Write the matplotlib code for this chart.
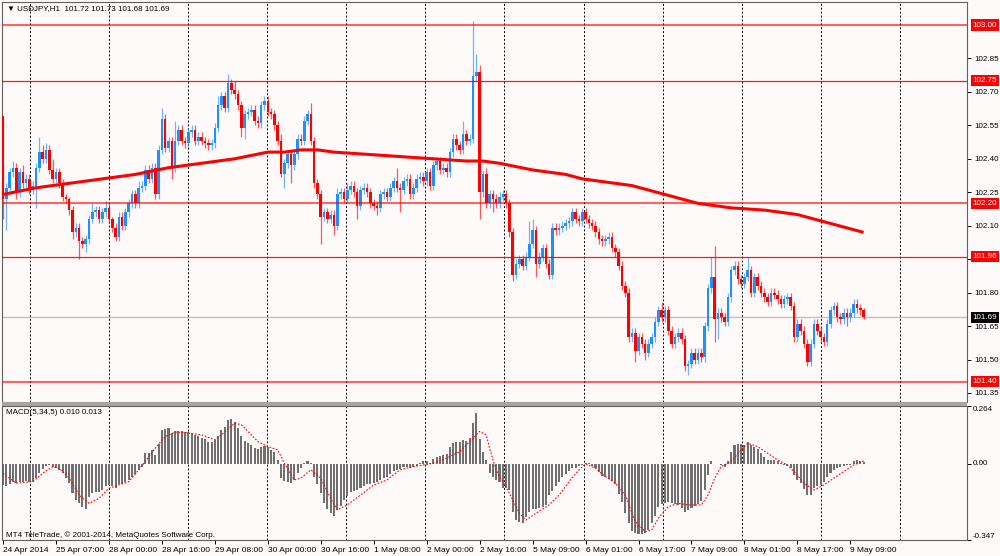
import numpy as np
import matplotlib
matplotlib.use("Agg")
import matplotlib.pyplot as plt
import matplotlib.transforms as mtransforms
from matplotlib.patches import Rectangle

plt.rcParams['font.family'] = ['Liberation Sans', 'DejaVu Sans']

# ---- data (USDJPY H1) ----
first_open = 102.59
closes = [
    102.22, 102.27, 102.34, 102.36, 102.25, 102.34, 102.29, 102.31, 102.26, 102.28,
    102.36, 102.43, 102.40, 102.44, 102.35, 102.31, 102.34, 102.29, 102.23, 102.22,
    102.17, 102.07, 102.09, 102.03, 102.02, 102.04, 102.13, 102.16, 102.17, 102.13,
    102.16, 102.18, 102.13, 102.09, 102.05, 102.14, 102.10, 102.16, 102.20, 102.24,
    102.20, 102.27, 102.28, 102.35, 102.31, 102.36, 102.24, 102.44, 102.58, 102.45,
    102.48, 102.36, 102.48, 102.53, 102.48, 102.47, 102.52, 102.53, 102.48, 102.50,
    102.48, 102.47, 102.46, 102.47, 102.54, 102.64, 102.68, 102.63, 102.74, 102.71,
    102.69, 102.64, 102.54, 102.60, 102.61, 102.62, 102.57, 102.56, 102.64, 102.66,
    102.61, 102.60, 102.55, 102.48, 102.33, 102.38, 102.42, 102.37, 102.42, 102.49,
    102.48, 102.57, 102.60, 102.48, 102.29, 102.24, 102.14, 102.16, 102.13, 102.15,
    102.10, 102.24, 102.25, 102.22, 102.26, 102.28, 102.25, 102.19, 102.26, 102.27,
    102.25, 102.20, 102.19, 102.18, 102.24, 102.25, 102.23, 102.27, 102.30, 102.27,
    102.26, 102.30, 102.31, 102.24, 102.27, 102.31, 102.32, 102.30, 102.34, 102.28,
    102.37, 102.39, 102.35, 102.36, 102.34, 102.43, 102.49, 102.46, 102.44, 102.51,
    102.48, 102.49, 102.77, 102.79, 102.25, 102.33, 102.20, 102.24, 102.22, 102.20,
    102.23, 102.24, 102.20, 102.07, 101.88, 101.93, 101.95, 101.92, 101.96, 102.02,
    102.08, 101.93, 101.96, 102.00, 101.93, 101.88, 102.09, 102.08, 102.09, 102.10,
    102.11, 102.12, 102.16, 102.13, 102.12, 102.16, 102.13, 102.11, 102.10, 102.07,
    102.04, 102.03, 102.04, 102.05, 102.00, 101.98, 101.92, 101.83, 101.80, 101.60,
    101.62, 101.54, 101.60, 101.57, 101.53, 101.57, 101.60, 101.67, 101.72, 101.69,
    101.72, 101.63, 101.57, 101.60, 101.62, 101.59, 101.47, 101.48, 101.53, 101.50,
    101.53, 101.51, 101.65, 101.82, 101.87, 101.68, 101.71, 101.69, 101.67, 101.78,
    101.90, 101.92, 101.86, 101.84, 101.87, 101.90, 101.80, 101.87, 101.83, 101.80,
    101.78, 101.76, 101.80, 101.79, 101.77, 101.75, 101.77, 101.78, 101.74, 101.60,
    101.66, 101.63, 101.57, 101.49, 101.57, 101.66, 101.63, 101.60, 101.58, 101.66,
    101.72, 101.74, 101.69, 101.68, 101.71, 101.69, 101.71, 101.75, 101.73, 101.72,
    101.69,
]
# wick lengths beyond the body, in pips (0.01)
hi_wick = [
    0, 2, 2, 3, 2, 2, 3, 2, 2, 2, 2, 7, 3, 3, 2, 5, 2, 2, 2, 1,
    1, 2, 2, 2, 2, 2, 2, 4, 2, 2, 2, 3, 2, 1, 2, 2, 2, 2, 2, 2,
    2, 3, 2, 2, 2, 2, 2, 2, 5, 2, 2, 2, 9, 2, 2, 2, 2, 2, 2, 2,
    2, 2, 2, 2, 2, 4, 2, 2, 4, 2, 4, 2, 2, 2, 2, 2, 2, 2, 2, 2,
    2, 2, 2, 2, 3, 2, 2, 2, 2, 2, 2, 2, 2, 5, 2, 2, 2, 2, 2, 2,
    2, 3, 2, 2, 3, 2, 2, 2, 2, 2, 2, 2, 2, 2, 2, 2, 2, 2, 2, 6,
    2, 2, 2, 2, 2, 2, 2, 2, 2, 2, 2, 2, 2, 2, 2, 2, 2, 2, 2, 6,
    2, 2, 25, 8, 3, 2, 3, 2, 2, 2, 2, 2, 2, 2, 2, 2, 2, 2, 2, 10,
    5, 2, 2, 2, 2, 2, 2, 2, 2, 2, 2, 2, 2, 2, 2, 2, 2, 2, 2, 2,
    2, 2, 2, 2, 2, 2, 2, 2, 2, 2, 2, 2, 2, 2, 2, 2, 2, 2, 2, 4,
    2, 2, 2, 2, 2, 2, 2, 2, 2, 2, 2, 2, 2, 2, 9, 14, 2, 2, 2, 2,
    2, 2, 2, 2, 2, 6, 2, 2, 2, 2, 2, 2, 2, 2, 2, 2, 2, 2, 2, 2,
    2, 2, 2, 2, 2, 2, 2, 2, 2, 2, 2, 2, 2, 2, 2, 2, 2, 2, 2, 2,
    1,
]
lo_wick = [
    9, 14, 2, 2, 3, 2, 2, 2, 2, 2, 10, 2, 2, 2, 2, 2, 2, 2, 2, 2,
    2, 3, 2, 8, 2, 4, 2, 2, 2, 2, 2, 2, 2, 2, 2, 2, 2, 2, 2, 2,
    2, 2, 2, 2, 2, 2, 2, 2, 2, 2, 2, 5, 2, 2, 2, 2, 2, 2, 2, 2,
    2, 2, 2, 2, 2, 2, 2, 2, 2, 2, 2, 2, 4, 5, 2, 2, 2, 2, 2, 2,
    2, 2, 2, 2, 1, 6, 2, 8, 2, 2, 2, 2, 2, 2, 2, 2, 12, 2, 2, 2,
    4, 2, 2, 2, 2, 2, 2, 6, 2, 2, 2, 2, 2, 3, 2, 2, 2, 2, 2, 2,
    10, 2, 2, 2, 2, 2, 2, 2, 2, 2, 2, 2, 2, 2, 2, 2, 2, 2, 2, 2,
    2, 2, 2, 2, 12, 2, 2, 2, 6, 2, 2, 2, 2, 2, 3, 2, 2, 2, 2, 2,
    2, 6, 2, 2, 2, 2, 2, 2, 2, 2, 2, 2, 2, 2, 2, 2, 2, 2, 2, 2,
    2, 2, 2, 2, 2, 2, 2, 2, 2, 2, 2, 5, 2, 2, 3, 2, 2, 2, 2, 2,
    2, 2, 2, 2, 2, 2, 2, 4, 2, 2, 2, 2, 2, 2, 2, 10, 9, 2, 2, 2,
    2, 2, 2, 2, 2, 2, 2, 2, 2, 2, 2, 2, 2, 2, 2, 2, 2, 2, 2, 2,
    2, 2, 2, 2, 2, 2, 2, 2, 2, 2, 2, 2, 2, 2, 2, 4, 2, 2, 2, 2,
    1,
]

# thick red moving average
ma_bars = [0, 10, 20, 30, 40, 50, 60, 70, 80, 85, 90, 95, 100, 110, 120, 130, 140,
           145, 150, 160, 170, 175, 180, 190, 200, 205, 210, 220, 230, 240, 245,
           250, 255, 260]
ma_vals = [102.24, 102.27, 102.29, 102.31, 102.33, 102.36, 102.38, 102.40, 102.43,
           102.43, 102.44, 102.44, 102.43, 102.42, 102.41, 102.40, 102.39, 102.39,
           102.38, 102.35, 102.33, 102.31, 102.30, 102.28, 102.24, 102.22, 102.20,
           102.18, 102.17, 102.15, 102.13, 102.11, 102.09, 102.07]

macd = [
    -0.096, -0.099, -0.093, -0.084, -0.088, -0.084, -0.081, -0.078, -0.084, -0.084,
    -0.065, -0.043, -0.023, -0.008, -0.005, -0.012, -0.020, -0.027, -0.043, -0.065,
    -0.088, -0.134, -0.164, -0.180, -0.195, -0.205, -0.149, -0.134, -0.129, -0.126,
    -0.119, -0.103, -0.096, -0.103, -0.111, -0.093, -0.093, -0.084, -0.073, -0.058,
    -0.047, -0.027, -0.012, 0.049, 0.049, 0.064, 0.041, 0.090, 0.155, 0.160,
    0.163, 0.140, 0.148, 0.148, 0.148, 0.145, 0.145, 0.140, 0.132, 0.125,
    0.120, 0.113, 0.102, 0.099, 0.110, 0.125, 0.155, 0.170, 0.201, 0.205,
    0.193, 0.163, 0.125, 0.105, 0.094, 0.087, 0.072, 0.068, 0.075, 0.082,
    0.079, 0.064, 0.053, 0.018, -0.065, -0.078, -0.084, -0.088, -0.073, -0.043,
    -0.017, 0.003, 0.014, 0.003, -0.058, -0.093, -0.134, -0.180, -0.205, -0.225,
    -0.236, -0.210, -0.190, -0.164, -0.146, -0.129, -0.123, -0.119, -0.108, -0.099,
    -0.093, -0.093, -0.088, -0.084, -0.073, -0.065, -0.058, -0.047, -0.032, -0.027,
    -0.023, -0.012, -0.012, -0.017, -0.012, -0.008, 0.003, 0.011, 0.011, 0.003,
    0.023, 0.033, 0.038, 0.041, 0.044, 0.075, 0.094, 0.099, 0.099, 0.110,
    0.105, 0.117, 0.186, 0.231, 0.114, 0.053, 0.018, -0.043, -0.058, -0.073,
    -0.084, -0.111, -0.111, -0.119, -0.218, -0.256, -0.263, -0.271, -0.240, -0.218,
    -0.207, -0.205, -0.202, -0.195, -0.187, -0.142, -0.123, -0.099, -0.084, -0.062,
    -0.046, -0.032, -0.020, -0.017, -0.009, -0.005, 0.005, 0.002, -0.008, -0.020,
    -0.038, -0.055, -0.062, -0.070, -0.078, -0.093, -0.139, -0.175, -0.225, -0.271,
    -0.306, -0.317, -0.321, -0.321, -0.317, -0.301, -0.271, -0.236, -0.195, -0.184,
    -0.180, -0.175, -0.180, -0.184, -0.187, -0.202, -0.218, -0.210, -0.199, -0.192,
    -0.184, -0.169, -0.119, -0.050, 0.011, -0.001, 0.001, -0.005, -0.012, 0.014,
    0.056, 0.087, 0.093, 0.091, 0.087, 0.102, 0.087, 0.078, 0.068, 0.049,
    0.033, 0.018, 0.018, 0.017, 0.011, 0.003, -0.005, -0.008, -0.017, -0.050,
    -0.073, -0.088, -0.114, -0.142, -0.142, -0.111, -0.103, -0.096, -0.081, -0.058,
    -0.043, -0.027, -0.020, -0.012, -0.008, -0.005, -0.005, 0.014, 0.018, 0.015,
    0.010,
]
sig_bars = [0, 4, 9, 12, 15, 17, 20, 23, 26, 29, 32, 35, 38, 41, 43, 46, 49, 52, 55,
            60, 64, 67, 70, 72, 74, 77, 80, 83, 85, 88, 90, 93, 96, 99, 101, 104,
            108, 112, 116, 120, 124, 127, 130, 134, 138, 141, 144, 146, 147, 149,
            151, 153, 156, 158, 161, 165, 168, 171, 174, 176, 179, 182, 185, 188,
            191, 194, 196, 198, 201, 204, 207, 211, 213, 215, 217, 220, 223, 225,
            228, 231, 234, 237, 239, 242, 245, 248, 251, 254, 257, 260]
sig_vals = [-0.043, -0.088, -0.081, -0.043, -0.012, -0.020, -0.065, -0.142, -0.180,
            -0.157, -0.111, -0.096, -0.081, -0.027, 0.011, 0.072, 0.125, 0.145,
            0.143, 0.132, 0.110, 0.145, 0.186, 0.178, 0.148, 0.102, 0.079, 0.064,
            0.003, -0.073, -0.065, -0.027, -0.065, -0.157, -0.210, -0.187, -0.142,
            -0.096, -0.073, -0.027, -0.012, -0.005, 0.003, 0.026, 0.056, 0.102,
            0.148, 0.132, 0.072, -0.030, -0.081, -0.134, -0.225, -0.256, -0.225,
            -0.187, -0.142, -0.081, -0.027, 0.000, -0.020, -0.058, -0.088, -0.142,
            -0.263, -0.309, -0.301, -0.248, -0.195, -0.180, -0.187, -0.187, -0.142,
            -0.065, -0.012, 0.011, 0.064, 0.094, 0.079, 0.049, 0.018, -0.005,
            -0.035, -0.088, -0.119, -0.096, -0.065, -0.035, -0.005, 0.013]

date_labels = ["24 Apr 2014", "25 Apr 07:00", "28 Apr 00:00", "28 Apr 16:00",
               "29 Apr 08:00", "30 Apr 00:00", "30 Apr 16:00", "1 May 08:00",
               "2 May 00:00", "2 May 16:00", "5 May 09:00", "6 May 01:00",
               "6 May 17:00", "7 May 09:00", "8 May 01:00", "8 May 17:00",
               "9 May 09:00"]
level_lines = [103.00, 102.75, 102.20, 101.96, 101.40]
faint_levels = [103.00, 102.20, 101.40]
last_price = 101.69
price_ticks = [101.35, 101.50, 101.65, 101.80, 101.95, 102.10, 102.25, 102.40,
               102.55, 102.70, 102.85]
macd_range = (-0.347, 0.264)
header = "USDJPY,H1  101.72 101.73 101.68 101.69"
macd_title = "MACD(5,34,5) 0.010 0.013"
copyright_txt = "MT4 TeleTrade, \u00a9 2001-2014, MetaQuotes Software Corp."

BG = '#fffafa'
UP = '#1e90ff'
DN = '#ff0000'
FS = 5.8

closes = np.array(closes)
opens = np.concatenate([[first_open], closes[:-1]])
top = np.maximum(opens, closes)
bot = np.minimum(opens, closes)
highs = top + np.array(hi_wick) / 100.0
lows = bot - np.array(lo_wick) / 100.0
idx = np.arange(len(closes))
cols = np.where(closes >= opens, UP, DN)

W, H = 1000, 556
def px_box(x0, y0, x1, y1):
    return [x0 / W, 1 - y1 / H, (x1 - x0) / W, (y1 - y0) / H]

fig = plt.figure(figsize=(10, 5.56), dpi=100, facecolor=BG)
ax = fig.add_axes(px_box(2, 2, 967, 402), facecolor=BG)
axm = fig.add_axes(px_box(2, 406, 967, 540), facecolor=BG)
fig.patches.append(Rectangle((2 / W, 1 - 406 / H), 965 / W, 4 / H,
                             transform=fig.transFigure, fc='#a4a4a4', ec='none'))

step = 3.31  # px per bar
xlim = (-1 / step, 964 / step)
grid_bars = [8.1] + [32 + 23.9 * k for k in range(11)]
for a in (ax, axm):
    a.set_xlim(*xlim)
    for g in grid_bars:
        a.axvline(g, color='black', lw=0.7, ls=(0, (2, 2)), zorder=0)
    for s in a.spines.values():
        s.set_color('#606060')
        s.set_linewidth(0.8)

# ---- price panel ----
ax.set_ylim(103.0 - 377 / 223, 103.0 + 23 / 223)
ax.axhline(last_price, color='#c0c0c0', lw=1.0, zorder=1)
ax.vlines(idx, lows, highs, colors=cols, lw=0.9, alpha=0.65, zorder=2)
ax.bar(idx, np.maximum(top - bot, 0.002), bottom=bot, width=0.78, color=cols,
       lw=0, zorder=3)
for v in level_lines:
    if v in faint_levels:
        ax.axhline(v, color=DN, lw=1.5, alpha=0.6, zorder=4)
    else:
        ax.axhline(v, color=DN, lw=0.9, alpha=0.9, zorder=4)
ax.plot(ma_bars, ma_vals, color=DN, lw=2.2, zorder=5, solid_capstyle='butt')

ax.set_xticks([])
ax.yaxis.set_ticks_position('right')
ax.set_yticks(price_ticks)
ax.set_yticklabels(['' if abs(v - 101.95) < 1e-6 else f'{v:.2f}' for v in price_ticks])
ax.tick_params(axis='y', length=3, width=0.7, pad=2, labelsize=FS, colors='black')

trans = mtransforms.blended_transform_factory(ax.transAxes, ax.transData)
for v in level_lines:
    ax.text(1.0058, v, f'{v:.2f}', transform=trans, ha='left', va='center',
            fontsize=FS, color='white', clip_on=False, zorder=10,
            bbox=dict(boxstyle='square,pad=0.25', fc=DN, ec='none'))
ax.text(1.0058, last_price, f'{last_price:.2f}', transform=trans, ha='left',
        va='center', fontsize=FS, color='white', clip_on=False, zorder=10,
        bbox=dict(boxstyle='square,pad=0.25', fc='black', ec='none'))

fig.text(7 / W, 1 - 9 / H, '\u25bc ' + header, fontsize=FS, ha='left', va='center')

# ---- MACD panel ----
axm.set_ylim(*macd_range)
axm.bar(idx, macd, width=0.62, color='#707070', lw=0, zorder=2)
axm.plot(sig_bars, sig_vals, color=DN, lw=0.8, ls=(0, (1.5, 1.5)), zorder=3)
axm.yaxis.set_ticks_position('right')
axm.set_yticks([macd_range[0], 0.0, macd_range[1]])
axm.set_yticklabels([])
axm.tick_params(axis='y', length=3, width=0.7)
mtrans = mtransforms.blended_transform_factory(axm.transAxes, axm.transData)
axm.text(1.0058, macd_range[1], f'{macd_range[1]:.3f}', transform=mtrans,
         ha='left', va='top', fontsize=FS)
axm.text(1.0058, 0.0, '0.00', transform=mtrans, ha='left', va='center', fontsize=FS)
axm.text(1.0058, macd_range[0], f'{macd_range[0]:.3f}', transform=mtrans,
         ha='left', va='bottom', fontsize=FS)

axm.set_xticks(np.arange(len(date_labels)) * 16)
axm.set_xticklabels(date_labels, ha='left', fontsize=6)
axm.tick_params(axis='x', length=3, width=0.7, pad=2)

fig.text(6 / W, 1 - 413 / H, macd_title, fontsize=FS, ha='left', va='center')
fig.text(6 / W, 1 - 535 / H, copyright_txt, fontsize=FS, ha='left', va='center')

fig.savefig('out.png', dpi=100, facecolor=BG)
